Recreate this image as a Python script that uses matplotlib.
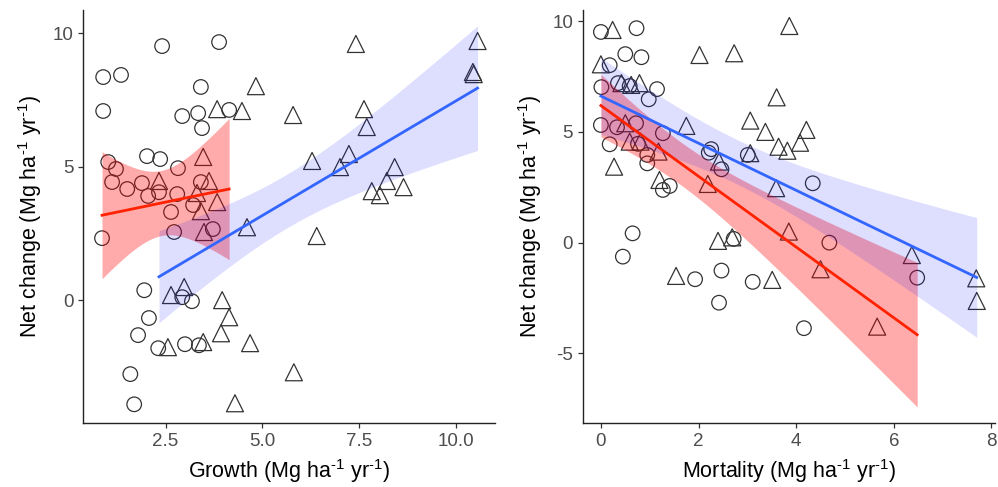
import numpy as np
import matplotlib.pyplot as plt

plt.rcParams['font.family'] = ['Liberation Sans', 'DejaVu Sans']
plt.rcParams['mathtext.fontset'] = 'custom'
plt.rcParams['mathtext.rm'] = 'Liberation Sans'
plt.rcParams['mathtext.default'] = 'regular'
plt.rcParams['axes.unicode_minus'] = False

# Left panel: growth vs net change
growth_circ = [0.89, 1.35, 2.41, 3.88, 3.41, 0.89, 2.93, 3.34, 3.44, 4.14,
               2.02, 2.36, 1.02, 1.22, 2.82, 1.12, 1.51, 1.89, 2.05, 2.33,
               2.80, 3.41, 3.21, 2.64, 2.72, 3.72, 0.86, 1.95, 2.93, 3.18,
               2.07, 1.79, 2.31, 3.00, 3.36, 1.59, 1.69]
net_g_circ = [8.35, 8.43, 9.51, 9.66, 7.98, 7.08, 6.89, 7.00, 6.44, 7.12,
              5.39, 5.28, 5.17, 4.91, 4.94, 4.42, 4.16, 4.38, 3.90, 4.04,
              3.97, 4.42, 3.56, 3.30, 2.55, 2.66, 2.32, 0.37, 0.11, -0.04,
              -0.67, -1.31, -1.80, -1.65, -1.69, -2.77, -3.90]
growth_tri = [4.83, 3.83, 4.47, 5.79, 3.47, 2.33, 3.62, 3.31, 3.83, 3.41,
              4.60, 3.49, 2.64, 2.98, 3.96, 4.14, 3.93, 3.47, 2.56, 4.68,
              5.81, 4.29, 6.40, 7.41, 10.55, 10.43, 10.45, 7.62, 7.69, 6.28,
              7.23, 7.00, 8.41, 8.21, 8.64, 7.82, 8.03]
net_g_tri = [8.01, 7.15, 7.08, 6.93, 5.36, 4.46, 4.46, 4.01, 3.67, 3.33,
             2.73, 2.55, 0.19, 0.49, 0.00, -0.64, -1.24, -1.57, -1.76, -1.61,
             -2.70, -3.86, 2.40, 9.59, 9.70, 8.54, 8.46, 7.15, 6.48, 5.21,
             5.47, 4.98, 4.98, 4.46, 4.23, 4.08, 3.93]

# Right panel: mortality vs net change
mort_circ = [0.00, 0.73, 0.50, 0.83, 0.18, 0.01, 0.35, 0.59, 1.15, 0.98,
             0.00, 0.33, 0.72, 1.27, 0.18, 0.76, 0.95, 0.95, 1.41, 1.27,
             2.26, 2.21, 2.47, 3.01, 4.34, 0.65, 0.45, 2.72, 1.93, 2.47,
             3.11, 2.42, 4.68, 6.48, 4.16]
net_m_circ = [9.51, 9.68, 8.51, 8.37, 8.01, 7.02, 7.20, 7.07, 6.93, 6.47,
              5.31, 5.21, 5.39, 4.94, 4.44, 4.46, 3.96, 3.58, 2.56, 2.38,
              4.22, 4.06, 3.31, 3.96, 2.68, 0.42, -0.63, 0.17, -1.65, -1.26,
              -1.77, -2.71, 0.00, -1.58, -3.86]
mort_tri = [0.24, 3.86, 0.00, 2.02, 2.73, 0.42, 0.62, 0.79, 3.60, 1.75,
            3.06, 3.37, 3.64, 3.82, 4.21, 4.08, 0.50, 0.59, 0.81, 1.18,
            0.27, 1.20, 3.06, 2.42, 2.19, 3.59, 3.85, 2.40, 2.69, 1.54,
            3.51, 4.50, 6.37, 7.69, 7.70, 5.66]
net_m_tri = [9.60, 9.78, 8.05, 8.47, 8.55, 7.20, 7.12, 7.20, 6.56, 5.27,
             5.51, 5.00, 4.33, 4.15, 5.09, 4.51, 5.39, 4.56, 4.56, 4.11,
             3.43, 2.83, 4.04, 3.66, 2.65, 2.46, 0.50, 0.08, 0.24, -1.50,
             -1.68, -1.20, -0.56, -1.61, -2.63, -3.79]

unit = ' (Mg ha$^{\\text{-}1}$ yr$^{\\text{-}1}$)'


def lm_band(x, y, t=2.03):
    # linear fit with 95% confidence band (like geom_smooth(method="lm"))
    x = np.asarray(x)
    y = np.asarray(y)
    n = len(x)
    b, a = np.polyfit(x, y, 1)
    xs = np.linspace(x.min(), x.max(), 100)
    yhat = a + b * xs
    s = np.sqrt(np.sum((y - (a + b * x)) ** 2) / (n - 2))
    se = s * np.sqrt(1 / n + (xs - x.mean()) ** 2 / np.sum((x - x.mean()) ** 2))
    return xs, yhat, yhat - t * se, yhat + t * se


def draw_panel(ax, xc, yc, xt, yt):
    ax.scatter(xc, yc, s=110, marker='o', facecolors='none',
               edgecolors='#333333', linewidths=0.9, zorder=2)
    ax.scatter(xt, yt, s=150, marker='^', facecolors='none',
               edgecolors='#333333', linewidths=0.9, zorder=2)
    xs, yh, lo, hi = lm_band(xc, yc)
    ax.fill_between(xs, lo, hi, color='#FF0000', alpha=0.33, lw=0, zorder=3)
    ax.plot(xs, yh, color='#FF2200', lw=2.0, zorder=5)
    xs, yh, lo, hi = lm_band(xt, yt)
    ax.fill_between(xs, lo, hi, color='#0000FF', alpha=0.13, lw=0, zorder=3)
    ax.plot(xs, yh, color='#3366FF', lw=2.0, zorder=5)
    for side in ['top', 'right']:
        ax.spines[side].set_visible(False)
    for side in ['left', 'bottom']:
        ax.spines[side].set_color('#222222')
        ax.spines[side].set_linewidth(1.0)
    ax.tick_params(length=3.5, width=0.9, color='#333333',
                   labelsize=13.5, labelcolor='#4D4D4D')


fig = plt.figure(figsize=(9.98, 4.87), dpi=100)
ax1 = fig.add_axes([0.0832, 0.1314, 0.4128, 0.848])
ax2 = fig.add_axes([0.584, 0.1314, 0.4128, 0.848])

draw_panel(ax1, growth_circ, net_g_circ, growth_tri, net_g_tri)
ax1.set_xlim(0.37, 11.0)
ax1.set_ylim(-4.6, 10.86)
ax1.set_xticks([2.5, 5.0, 7.5, 10.0])
ax1.set_xticklabels(['2.5', '5.0', '7.5', '10.0'])
ax1.set_yticks([0, 5, 10])
ax1.set_xlabel('Growth' + unit, fontsize=15.5, labelpad=5)
ax1.set_ylabel('Net change' + unit, fontsize=15.5, labelpad=6)

draw_panel(ax2, mort_circ, net_m_circ, mort_tri, net_m_tri)
ax2.set_xlim(-0.37, 8.07)
ax2.set_ylim(-8.14, 10.5)
ax2.set_xticks([0, 2, 4, 6, 8])
ax2.set_yticks([-5, 0, 5, 10])
ax2.set_xlabel('Mortality' + unit, fontsize=15.5, labelpad=5)
ax2.set_ylabel('Net change' + unit, fontsize=15.5, labelpad=6)

fig.savefig('out.png', dpi=100)
